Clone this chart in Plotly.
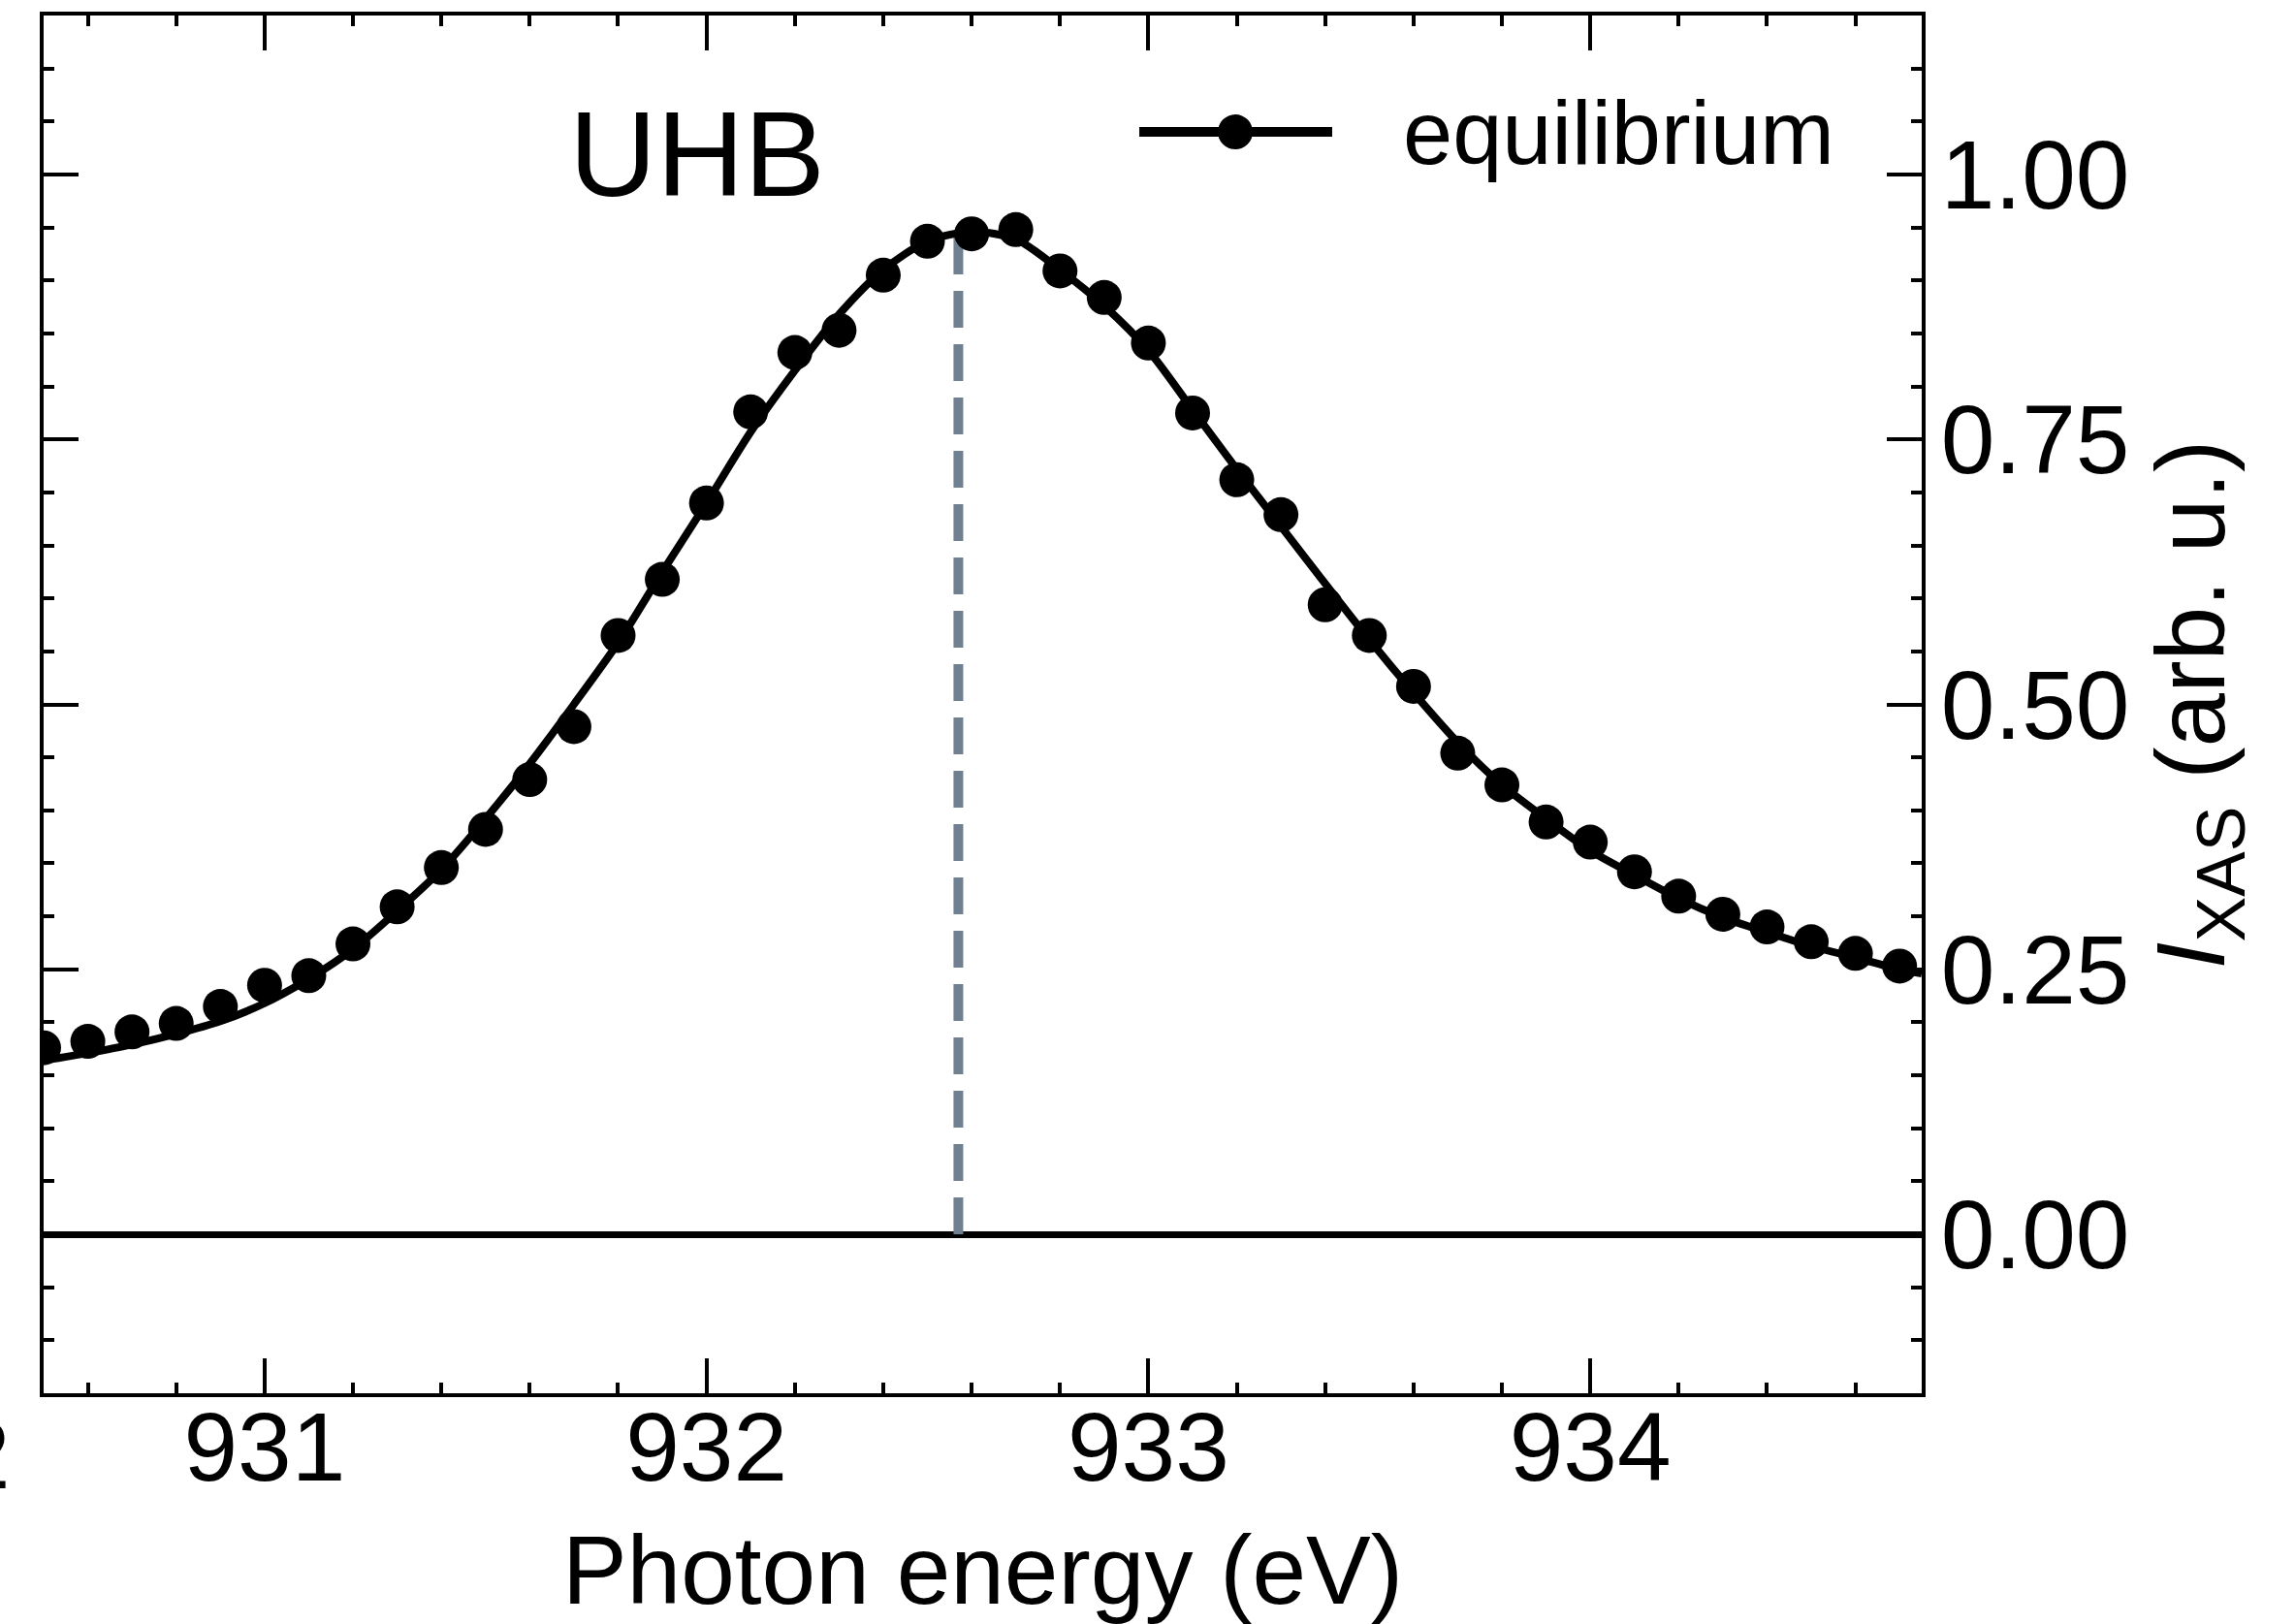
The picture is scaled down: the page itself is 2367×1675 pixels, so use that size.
import plotly.graph_objects as go

# ---- data ----
energy = [930.5, 930.6, 930.7, 930.8, 930.9, 931.0, 931.1, 931.2, 931.3, 931.4,
          931.5, 931.6, 931.7, 931.8, 931.9, 932.0, 932.1, 932.2, 932.3, 932.4,
          932.5, 932.6, 932.7, 932.8, 932.9, 933.0, 933.1, 933.2, 933.3, 933.4,
          933.5, 933.6, 933.7, 933.8, 933.9, 934.0, 934.1, 934.2, 934.3, 934.4,
          934.5, 934.6, 934.7]
intensity = [0.176, 0.182, 0.191, 0.199, 0.215, 0.235, 0.244, 0.274, 0.309, 0.346,
             0.382, 0.429, 0.479, 0.565, 0.618, 0.690, 0.776, 0.832, 0.853, 0.905,
             0.937, 0.944, 0.948, 0.909, 0.884, 0.841, 0.775, 0.712, 0.679, 0.594,
             0.565, 0.517, 0.454, 0.424, 0.389, 0.370, 0.342, 0.319, 0.302, 0.290,
             0.276, 0.265, 0.253]

fit_energy = [930.5, 930.6, 930.7, 930.8, 930.9, 931.0, 931.1, 931.2, 931.3, 931.4,
              931.5, 931.6, 931.7, 931.8, 931.9, 932.0, 932.1, 932.2, 932.3, 932.4,
              932.5, 932.6, 932.7, 932.8, 932.9, 933.0, 933.1, 933.2, 933.3, 933.4,
              933.5, 933.6, 933.7, 933.8, 933.9, 934.0, 934.1, 934.2, 934.3, 934.4,
              934.5, 934.6, 934.7, 934.75]
fit_intensity = [0.164, 0.171, 0.179, 0.189, 0.201, 0.218, 0.241, 0.269, 0.305, 0.344,
                 0.392, 0.444, 0.500, 0.558, 0.625, 0.690, 0.757, 0.815, 0.868, 0.910,
                 0.937, 0.946, 0.939, 0.910, 0.876, 0.834, 0.778, 0.722, 0.668, 0.614,
                 0.561, 0.511, 0.464, 0.424, 0.392, 0.362, 0.339, 0.317, 0.299, 0.285,
                 0.272, 0.261, 0.250, 0.246]

peak_energy = 932.57
peak_height = 0.943

x_ticks = [931, 932, 933, 934]
y_ticks = [0.00, 0.25, 0.50, 0.75, 1.00]
y_tick_text = ["0.00", "0.25", "0.50", "0.75", "1.00"]

legend_label = "equilibrium"
panel_label = "UHB"
x_title = "Photon energy (eV)"
y_title = "<i>I</i><sub>XAS</sub> (arb. u.)"

FONT = "Liberation Sans, Arial, Helvetica, sans-serif"

fig = go.Figure()

# vertical dashed peak marker
fig.add_trace(go.Scatter(
    x=[peak_energy, peak_energy], y=[0, peak_height], mode="lines",
    line=dict(color="#708090", width=10, dash="38px,17px"),
    showlegend=False, hoverinfo="skip"))

# fit curve
fig.add_trace(go.Scatter(
    x=fit_energy, y=fit_intensity, mode="lines",
    line=dict(color="black", width=8, shape="spline", smoothing=0.8),
    showlegend=False))

# data points
fig.add_trace(go.Scatter(
    x=energy, y=intensity, mode="markers",
    marker=dict(color="black", size=36, line=dict(width=0)),
    name=legend_label, showlegend=False))

axis_common = dict(
    showline=True, linecolor="black", linewidth=3.5, mirror="allticks",
    ticks="inside", tickcolor="black", tickwidth=3.5, ticklen=36,
    showgrid=False, automargin=False,
    tickfont=dict(family=FONT, size=100, color="black"),
)

fig.update_xaxes(
    range=[930.5, 934.75], tickvals=x_ticks, ticktext=[str(v) for v in x_ticks],
    minor=dict(ticks="inside", ticklen=11, tickwidth=3.5, tickcolor="black",
               dtick=0.2, tick0=930.0, showgrid=False),
    zeroline=False,
    ticklabelstandoff=-34,
    title=dict(text=x_title, font=dict(family=FONT, size=100, color="black"), standoff=58),
    **axis_common)

fig.update_yaxes(
    range=[-0.15, 1.15], side="right", tickvals=y_ticks, ticktext=y_tick_text,
    minor=dict(ticks="inside", ticklen=11, tickwidth=3.5, tickcolor="black",
               dtick=0.05, tick0=0, showgrid=False),
    zeroline=True, zerolinecolor="black", zerolinewidth=7,
    ticklabelstandoff=-4,
    title=dict(text=y_title, font=dict(family=FONT, size=100, color="black"), standoff=30),
    **axis_common)

# legend drawn manually to match the long sample line
leg_y = 0.9155
fig.add_shape(type="line", xref="paper", yref="paper",
              x0=0.5834, x1=0.6861, y0=leg_y, y1=leg_y,
              line=dict(color="black", width=10))
fig.add_shape(type="circle", xref="paper", yref="paper",
              xsizemode="pixel", ysizemode="pixel",
              xanchor=0.6345, yanchor=leg_y, x0=-18, x1=18, y0=-18, y1=18,
              fillcolor="black", line=dict(color="black", width=0))

fig.add_annotation(text=legend_label, xref="paper", yref="paper",
                   x=0.7228, y=0.915, xanchor="left", yanchor="middle",
                   showarrow=False, font=dict(family=FONT, size=92, color="black"))

fig.add_annotation(text=panel_label, xref="paper", yref="paper",
                   x=0.348, y=0.900, xanchor="center", yanchor="middle",
                   showarrow=False, font=dict(family=FONT, size=125, color="black"))

# partially visible tick label from the neighbouring panel
fig.add_annotation(text="2", xref="paper", yref="paper",
                   x=-0.0165, y=-0.044, xanchor="right", yanchor="middle",
                   showarrow=False, font=dict(family=FONT, size=100, color="black"))

fig.update_layout(
    width=2367, height=1675,
    margin=dict(l=45, r=385, t=16, b=238, autoexpand=False),
    plot_bgcolor="white", paper_bgcolor="white",
    showlegend=False,
    font=dict(family=FONT, color="black"),
)

fig.write_html("out.html")
